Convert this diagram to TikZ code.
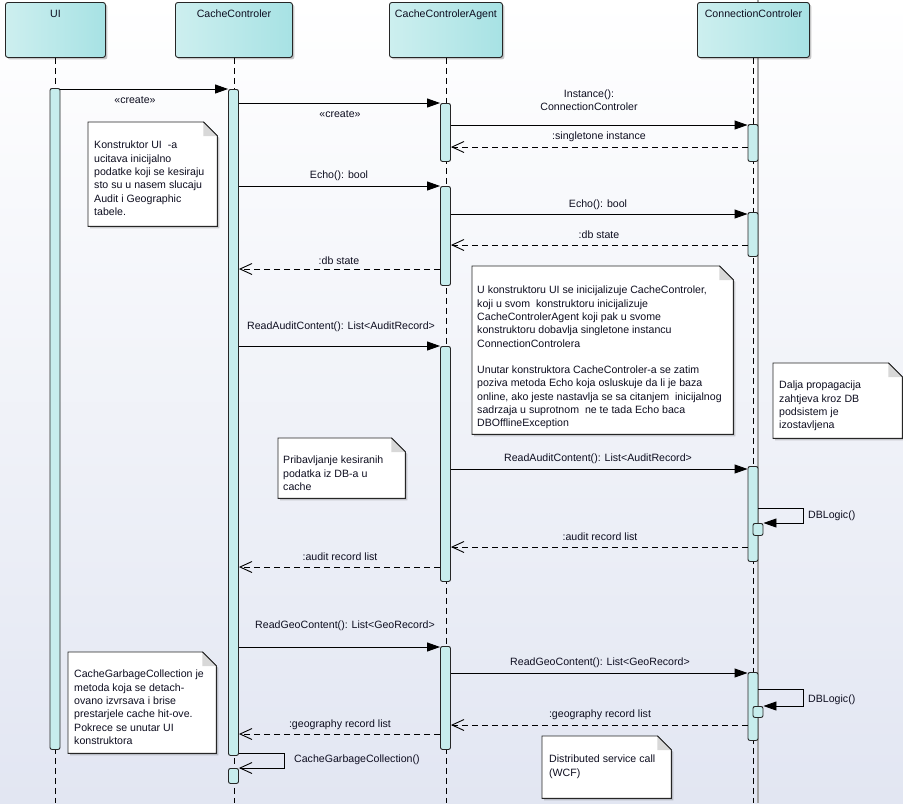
\documentclass[tikz,border=0pt]{standalone}
\usepackage{fontspec}
\setmainfont{Liberation Sans}
\usetikzlibrary{arrows.meta,shadows,calc}

\definecolor{ink}{HTML}{0E0E20}
\definecolor{frame}{HTML}{262626}
\definecolor{headL}{HTML}{CDEFEF}
\definecolor{headR}{HTML}{A7E2E4}
\definecolor{actfill}{HTML}{C7EDED}
\definecolor{bgbot}{HTML}{E2E6F2}
\definecolor{foldgray}{HTML}{D8D8D8}
\definecolor{boundary}{HTML}{A4A4A4}

% paper outline with a folded corner around an (invisible) note node
\newcommand\notepaper[1]{%
  \draw[frame, line width=0.9pt, fill=white,
        drop shadow={shadow xshift=2pt, shadow yshift=-2pt, opacity=0.18, fill=black}]
    (#1.north west) -- ([xshift=-14pt]#1.north east) -- ([yshift=-14pt]#1.north east)
    -- (#1.south east) -- (#1.south west) -- cycle;
  \fill[foldgray] ([xshift=-14pt]#1.north east) -- ([xshift=-14pt,yshift=-14pt]#1.north east)
    -- ([yshift=-14pt]#1.north east) -- cycle;
  \draw[frame, line width=0.9pt] ([xshift=-14pt]#1.north east) -- ([yshift=-14pt]#1.north east);}

\begin{document}
\begin{tikzpicture}[x=1pt, y=-1pt,
  font=\fontsize{10.6}{13.3}\selectfont, text=ink,
  head/.style={draw=frame, line width=0.9pt, rounded corners=2.5pt,
    left color=headL, right color=headR, minimum width=#1,
    text height=15pt, text depth=40pt, inner sep=0, anchor=north west,
    drop shadow={shadow xshift=2pt, shadow yshift=-2pt, opacity=0.22, fill=black}},
  lifeline/.style={draw=black, line width=0.9pt, dash pattern=on 6pt off 4pt},
  act/.style={draw=frame, fill=actfill, line width=0.9pt, rounded corners=2pt,
    minimum width=10pt, minimum height=#1, inner sep=0, anchor=north},
  call/.style={draw=black, line width=0.9pt, -{Triangle[length=13pt,width=9pt]}},
  reply/.style={draw=black, line width=0.9pt, dash pattern=on 6pt off 4pt,
    -{Straight Barb[length=12pt,width=11pt]}},
  async/.style={draw=black, line width=0.9pt, -{Straight Barb[length=12pt,width=11pt]}},
  lbl/.style={inner sep=0},
  notebox/.style 2 args={anchor=north west, inner sep=0, minimum width=#1, minimum height=#2},
  notetext/.style={anchor=north west, inner sep=0, align=left}
]
\useasboundingbox (0,0) rectangle (903,807);
\fill[white] (0,0) rectangle (903,807);
\shade[top color=white, bottom color=bgbot] (0,0) rectangle (903,803);

% system boundary
\draw[boundary, line width=2.4pt] (758,0) -- (758,803);

% participants
\node[head=100pt] (ui) at (5,2) {UI};
\node[head=117pt] (cc) at (175,2) {CacheControler};
\node[head=113pt] (ag) at (389,2) {CacheControlerAgent};
\node[head=112pt] (cn) at (697,2) {ConnectionControler};

% lifelines
\foreach \p in {ui,cc,ag,cn}
  \draw[lifeline] (\p.south) -- (\p.south |- 0,803);

% activations
\node[act=661pt] (uiA) at (55,88) {};
\node[act=666pt] (ccA) at (233.5,89) {};
\node[act=15pt]  (ccS) at (233.5,768) {};
\node[act=58pt]  (agA1) at (445.5,103) {};
\node[act=99pt]  (agA2) at (445.5,186) {};
\node[act=235pt] (agA3) at (445.5,346) {};
\node[act=103pt] (agA4) at (445.5,646) {};
\node[act=37pt]  (cnA1) at (753,124) {};
\node[act=44pt]  (cnA2) at (753,212) {};
\node[act=95pt]  (cnA3) at (753,466) {};
\node[act=12pt]  (cnN1) at (758,523) {};
\node[act=68pt]  (cnA4) at (753,672) {};
\node[act=11pt]  (cnN2) at (758,706) {};

% messages
\draw[call]  (uiA.east |- 0,89)  -- (ccA.west |- 0,89);
\node[lbl] (m1) at (135,100) {«create»};
\draw[call]  (ccA.east |- 0,103) -- (agA1.west |- 0,103);
\node[lbl] (m2) at (340,114) {«create»};
\draw[call]  (agA1.east |- 0,125) -- (cnA1.west |- 0,125);
\node[lbl, align=center] (m3) at (589,100.5) {Instance():\\ConnectionControler};
\draw[reply] (cnA1.west |- 0,147) -- (agA1.east |- 0,147);
\node[lbl] (m4) at (599,137) {:singletone instance};
\draw[call]  (ccA.east |- 0,186) -- (agA2.west |- 0,186);
\node[lbl] (m5) at (339,176) {Echo(): bool};
\draw[call]  (agA2.east |- 0,214) -- (cnA2.west |- 0,214);
\node[lbl] (m6) at (598,205) {Echo(): bool};
\draw[reply] (cnA2.west |- 0,245) -- (agA2.east |- 0,245);
\node[lbl] (m7) at (599,235) {:db state};
\draw[reply] (agA2.west |- 0,269) -- (ccA.east |- 0,269);
\node[lbl] (m8) at (339,261) {:db state};
\draw[call]  (ccA.east |- 0,346) -- (agA3.west |- 0,346);
\node[lbl] (m9) at (341,327) {ReadAuditContent(): List<AuditRecord>};
\draw[call]  (agA3.east |- 0,469) -- (cnA3.west |- 0,469);
\node[lbl] (m10) at (598,459) {ReadAuditContent(): List<AuditRecord>};
\draw[call]  (cnA3.east |- 0,508) -- ++(45,0) |- (cnN1.north east);
\node[lbl, anchor=west] (m11) at (808,516) {DBLogic()};
\draw[reply] (cnA3.west |- 0,547) -- (agA3.east |- 0,547);
\node[lbl] (m12) at (600,537) {:audit record list};
\draw[reply] (agA3.west |- 0,567) -- (ccA.east |- 0,567);
\node[lbl] (m13) at (340,557) {:audit record list};
\draw[call]  (ccA.east |- 0,647) -- (agA4.west |- 0,647);
\node[lbl] (m14) at (345,626) {ReadGeoContent(): List<GeoRecord>};
\draw[call]  (agA4.east |- 0,673) -- (cnA4.west |- 0,673);
\node[lbl] (m15) at (600,663) {ReadGeoContent(): List<GeoRecord>};
\draw[call]  (cnA4.east |- 0,689) -- ++(45,0) |- (cnN2.north east);
\node[lbl, anchor=west] (m16) at (808,700) {DBLogic()};
\draw[reply] (cnA4.west |- 0,725) -- (agA4.east |- 0,725);
\node[lbl] (m17) at (600,715) {:geography record list};
\draw[reply] (agA4.west |- 0,734) -- (ccA.east |- 0,734);
\node[lbl] (m18) at (340,725) {:geography record list};
\draw[async] (ccA.east |- 0,753) -- ++(45,0) |- (ccS.north east);
\node[lbl, anchor=west] (m19) at (294,760) {CacheGarbageCollection()};

% notes
\node[notebox={129pt}{104pt}] (n1) at (88,122) {};
\notepaper{n1}
\node[notetext] (n1t) at (94,141) {Konstruktor UI~ -a\\ucitava inicijalno\\podatke koji se kesiraju\\sto su u nasem slucaju\\Audit i Geographic\\tabele.};

\node[notebox={261pt}{168pt}] (n2) at (472,266) {};
\notepaper{n2}
\node[notetext] (n2t) at (477,286) {U konstruktoru UI se inicijalizuje CacheControler,\\koji u svom~ konstruktoru inicijalizuje\\CacheControlerAgent koji pak u svome\\konstruktoru dobavlja singletone instancu\\ConnectionControlera\\[13.3pt]Unutar konstruktora CacheControler-a se zatim\\poziva metoda Echo koja osluskuje da li je baza\\online, ako jeste nastavlja se sa citanjem~ inicijalnog\\sadrzaja u suprotnom~ ne te tada Echo baca\\DBOfflineException};

\node[notebox={129pt}{75pt}] (n3) at (773,363) {};
\notepaper{n3}
\node[notetext] (n3t) at (779,381) {Dalja propagacija\\zahtjeva kroz DB\\podsistem je\\izostavljena};

\node[notebox={127pt}{60pt}] (n4) at (278,438) {};
\notepaper{n4}
\node[notetext] (n4t) at (283,456) {Pribavljanje kesiranih\\podatka iz DB-a u\\cache};

\node[notebox={148pt}{101pt}] (n5) at (68,652) {};
\notepaper{n5}
\node[notetext] (n5t) at (74,670) {CacheGarbageCollection je\\metoda koja se detach-\\ovano izvrsava i brise\\prestarjele cache hit-ove.\\Pokrece se unutar UI\\konstruktora};

\node[notebox={129pt}{62pt}] (n6) at (542,736) {};
\notepaper{n6}
\node[notetext] (n6t) at (549,755) {Distributed service call\\(WCF)};
\end{tikzpicture}
\end{document}
